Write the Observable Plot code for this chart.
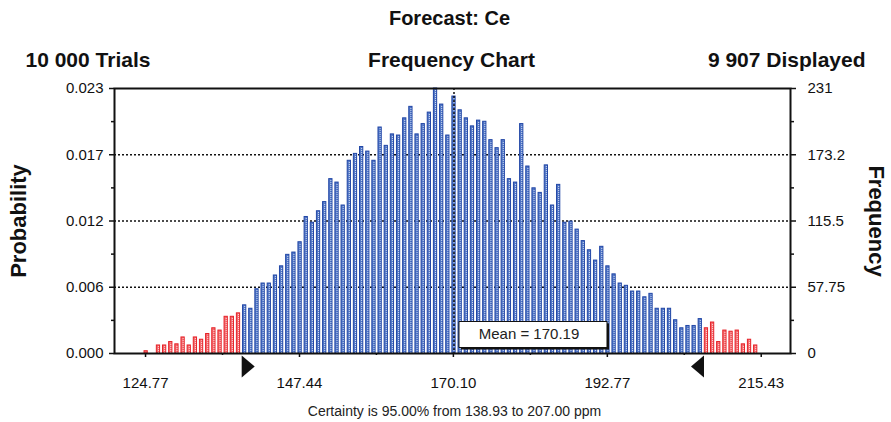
<!DOCTYPE html>
<html>
<head>
<meta charset="utf-8">
<script src="https://cdn.jsdelivr.net/npm/d3@7"></script>
<script src="https://cdn.jsdelivr.net/npm/@observablehq/plot@0.6"></script>
<style>
  body { margin: 0; background: #fff; }
  #chart svg { display: block; }
</style>
</head>
<body>
<div id="chart"></div>
<script>
// ---- Data ----
const forecastName = "Ce";
const trials = "10 000";
const displayed = "9 907";
const meanValue = 170.19;
const certaintyLow = 138.93;
const certaintyHigh = 207.00;
const certaintyPct = "95.00%";
const rangeLow = 124.77;
const rangeHigh = 215.43;

// frequency of each of the 100 bins (left to right)
const frequencies = [
  2, 0, 7, 7, 10, 8, 14, 7, 14, 12, 17, 22, 20, 32, 32, 35,
  42, 39, 56, 61, 61, 68, 76, 86, 88, 97, 119, 114, 124, 132, 152, 149, 129,
  168, 174, 180, 176, 168, 197, 181, 191, 190, 205, 215, 191, 200, 210, 231, 217,
  190, 224, 212, 205, 198, 203, 202, 186, 179, 186, 152, 149, 200, 163, 144, 140,
  164, 129, 147, 114, 115, 108, 98, 90, 81, 93, 76, 69, 61, 59, 54, 54, 49,
  52, 39, 39, 39, 29, 22, 24, 24, 30,
  22, 27, 10, 20, 19, 20, 8, 12, 7
];

const xTicks = [124.77, 147.44, 170.10, 192.77, 215.43];
const xTickLabels = ["124.77", "147.44", "170.10", "192.77", "215.43"];
const freqTicks = [0, 57.75, 115.5, 173.25, 231];
const freqTickLabels = ["0", "57.75", "115.5", "173.2", "231"];
const probTickLabels = ["0.000", "0.006", "0.012", "0.017", "0.023"];

// ---- Derived ----
const binWidth = (rangeHigh - rangeLow) / frequencies.length;
const bins = frequencies.map((f, i) => {
  const x = rangeLow + (i + 0.1) * binWidth;
  return {x, f, tail: x < certaintyLow || x > certaintyHigh};
});
const half = 0.24;
const mid = a => a.slice(1).map((v, i) => (v + a[i]) / 2);
const xMinor = mid(xTicks);
const yMinor = mid(freqTicks);

const blueFill = "#5277c6", blueStroke = "#2247a6", blueCore = "#d2ddf2";
const redFill = "#f26a6e", redStroke = "#e62329", redCore = "#ffd4d4";

const triRight = {draw(ctx) { ctx.moveTo(0, -11); ctx.lineTo(13, 0); ctx.lineTo(0, 11); ctx.closePath(); }};
const triLeft = {draw(ctx) { ctx.moveTo(0, -11); ctx.lineTo(-13, 0); ctx.lineTo(0, 11); ctx.closePath(); }};
const boxShape = {draw(ctx) { ctx.rect(5, -13, 148, 26); }};
const boxShadow = {draw(ctx) { ctx.rect(7, -11, 148, 26); }};

const font = "'Liberation Sans', Arial, Helvetica, sans-serif";
const mid0 = {lineAnchor: "middle", textAnchor: "middle"};

const chart = Plot.plot({
  width: 891,
  height: 422,
  marginLeft: 114,
  marginRight: 101,
  marginTop: 88,
  marginBottom: 69,
  style: {fontFamily: font, background: "#fff", color: "#111"},
  x: {domain: [120.2, 219.74], axis: null},
  y: {domain: [0, 231], axis: null},
  marks: [
    // dotted gridlines
    Plot.ruleY(freqTicks.slice(1, 4), {stroke: "#111", strokeWidth: 1.6, strokeDasharray: "2,2"}),
    // bars
    Plot.rectY(bins, {
      x1: d => d.x - half, x2: d => d.x + half, y1: 0, y2: "f",
      fill: d => d.tail ? redFill : blueFill,
      stroke: d => d.tail ? redStroke : blueStroke,
      strokeWidth: 1
    }),
    Plot.ruleX(bins.filter(d => d.f > 2), {
      x: "x", y1: 0, y2: d => d.f - 1,
      stroke: d => d.tail ? redCore : blueCore,
      strokeWidth: 1, strokeDasharray: "1,1"
    }),
    // mean line
    Plot.ruleX([meanValue], {stroke: "#111", strokeWidth: 1.5, strokeDasharray: "2,2"}),
    // mean label box
    Plot.dot([meanValue], {x: d => d, frameAnchor: "bottom", dy: -19, symbol: boxShadow, fill: "#111", stroke: null}),
    Plot.dot([meanValue], {x: d => d, frameAnchor: "bottom", dy: -19, symbol: boxShape, fill: "#fff", stroke: "#111", strokeWidth: 1}),
    Plot.text([meanValue], {x: d => d, frameAnchor: "bottom", dy: -19, dx: 75, ...mid0, text: d => `Mean = ${d.toFixed(2)}`, fontSize: 15, fill: "#222"}),
    // frame
    Plot.frame({stroke: "#111", strokeWidth: 2}),
    // axes
    Plot.axisY(freqTicks, {anchor: "left", tickSize: 5, tickPadding: 6, fontSize: 15, tickFormat: d => probTickLabels[freqTicks.indexOf(d)], label: null, stroke: "#111", strokeWidth: 1.5}),
    Plot.axisY(yMinor, {anchor: "left", tickSize: 3, tickFormat: () => "", label: null, stroke: "#111", strokeWidth: 1.5}),
    Plot.axisY(freqTicks, {anchor: "right", tickSize: 5, tickPadding: 12, fontSize: 15, tickFormat: d => freqTickLabels[freqTicks.indexOf(d)], label: null, stroke: "#111", strokeWidth: 1.5}),
    Plot.axisY(yMinor, {anchor: "right", tickSize: 3, tickFormat: () => "", label: null, stroke: "#111", strokeWidth: 1.5}),
    Plot.axisX(xTicks, {anchor: "bottom", tickSize: 4, tickPadding: 20, fontSize: 15, tickFormat: d => xTickLabels[xTicks.indexOf(d)], label: null, stroke: "#111", strokeWidth: 1.5}),
    Plot.axisX(xMinor, {anchor: "bottom", tickSize: 2, tickFormat: () => "", label: null, stroke: "#111", strokeWidth: 1.5}),
    // certainty markers
    Plot.dot([certaintyLow], {x: d => d, frameAnchor: "bottom", dy: 13, symbol: triRight, fill: "#111", stroke: null}),
    Plot.dot([certaintyHigh], {x: d => d, frameAnchor: "bottom", dy: 13, symbol: triLeft, fill: "#111", stroke: null}),
    // titles
    Plot.text([`Forecast: ${forecastName}`], {frameAnchor: "top", dx: -3, dy: -70, ...mid0, fontSize: 20, fontWeight: "bold", fill: "#111"}),
    Plot.text([`${trials} Trials`], {frameAnchor: "top-left", dx: -89, dy: -28, lineAnchor: "middle", textAnchor: "start", fontSize: 21, fontWeight: "bold", fill: "#111"}),
    Plot.text(["Frequency Chart"], {frameAnchor: "top", dx: -1, dy: -28, ...mid0, fontSize: 21, fontWeight: "bold", fill: "#111"}),
    Plot.text([`${displayed} Displayed`], {frameAnchor: "top-right", dx: 75, dy: -28, lineAnchor: "middle", textAnchor: "end", fontSize: 21, fontWeight: "bold", fill: "#111"}),
    Plot.text(["Probability"], {frameAnchor: "left", dx: -96, ...mid0, rotate: -90, fontSize: 22, fontWeight: "bold", fill: "#111"}),
    Plot.text(["Frequency"], {frameAnchor: "right", dx: 86, ...mid0, rotate: 90, fontSize: 22, fontWeight: "bold", fill: "#111"}),
    Plot.text([`Certainty is ${certaintyPct} from ${certaintyLow.toFixed(2)} to ${certaintyHigh.toFixed(2)} ppm`], {frameAnchor: "bottom", dx: 2, dy: 58, ...mid0, fontSize: 14, fill: "#222"})
  ]
});
document.getElementById("chart").appendChild(chart);
</script>
</body>
</html>
